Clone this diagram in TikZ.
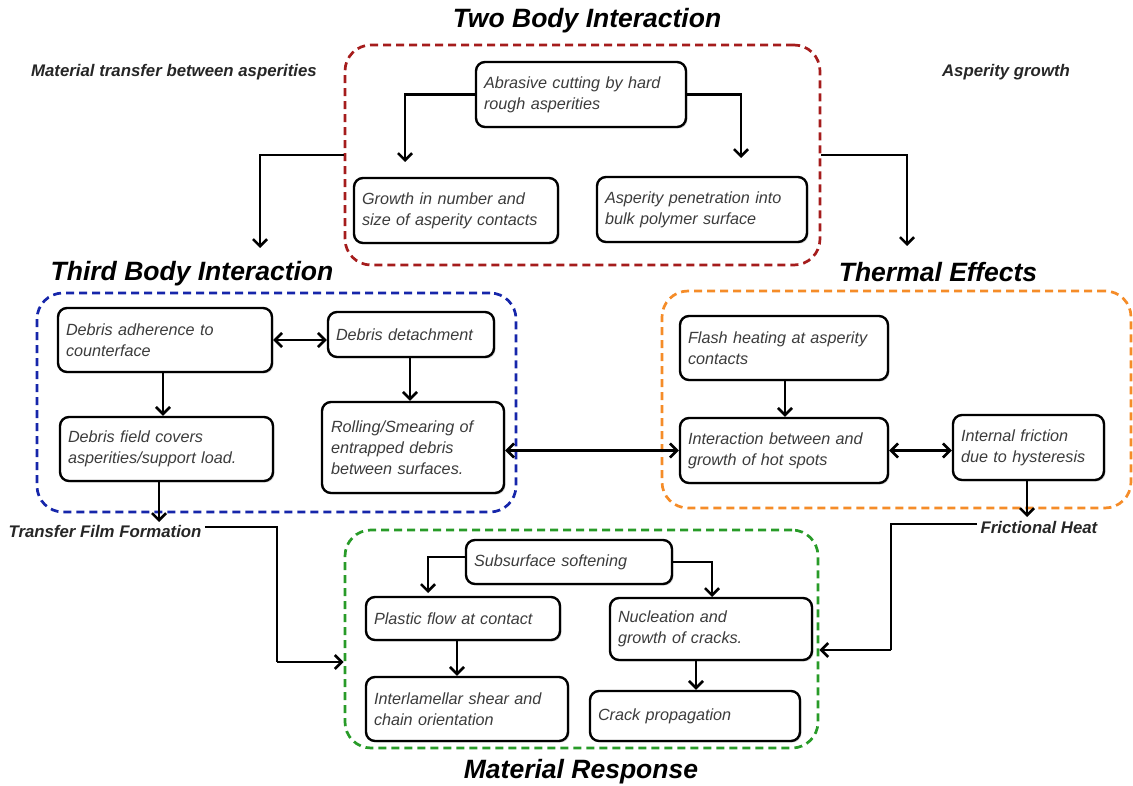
\documentclass[tikz,border=0pt]{standalone}
\usepackage{fontspec}
\setmainfont{Liberation Sans}
\usetikzlibrary{arrows.meta,shadows,calc}
\definecolor{cred}{RGB}{165,28,28}
\definecolor{cblue}{RGB}{22,38,170}
\definecolor{corange}{RGB}{245,140,40}
\definecolor{cgreen}{RGB}{40,155,40}
\definecolor{btext}{RGB}{60,60,60}
\begin{document}
\begin{tikzpicture}[x=1pt,y=-1pt,
  bx/.style={draw=black, line width=2.4pt, rounded corners=9pt, fill=white,
    drop shadow={shadow xshift=1.5pt,shadow yshift=-1.5pt,opacity=0.3},
    align=left, inner xsep=8pt, text=btext,
    font=\fontsize{16.2}{21}\selectfont\itshape},
  grp/.style={draw=#1, line width=2.7pt, dash pattern=on 8pt off 5pt,
    rounded corners=26pt, minimum width=0pt},
  ttl/.style={font=\fontsize{26.5}{30}\selectfont\bfseries\itshape, text=black},
  lbl/.style={font=\fontsize{16.8}{20}\selectfont\bfseries\itshape, text=black!85},
  arr/.style={line width=2.6pt, -{Straight Barb[length=7pt,width=14pt,line width=2.6pt]}},
  darr/.style={line width=2.6pt, {Straight Barb[length=7pt,width=14pt,line width=2.6pt]}-{Straight Barb[length=7pt,width=14pt,line width=2.6pt]}},
  ln/.style={line width=2.6pt}
]
\useasboundingbox (0,0) rectangle (1133,786);

% group frames
\node[grp=cred, minimum width=475pt, minimum height=220pt] (tbx) at (582.5,155) {};
\node[grp=cblue, minimum width=479pt, minimum height=219pt] (thx) at (276.5,402.5) {};
\node[grp=corange, minimum width=469pt, minimum height=217pt] (tex) at (896.5,399.5) {};
\node[grp=cgreen, minimum width=473pt, minimum height=218pt] (mrx) at (581.5,639) {};

% titles
\node[ttl] (tbt) at (587,21) {Two Body Interaction};
\node[ttl] (thb) at (192,274) {Third Body Interaction};
\node[ttl] (tet) at (938,272) {Thermal Effects};
\node[ttl] (mrt) at (581,772) {Material Response};

% side labels
\node[lbl] (mtb) at (174,72) {Material transfer between asperities};
\node[lbl] (ag) at (1006,72) {Asperity growth};
\node[lbl] (tff) at (105,531) {Transfer Film Formation};
\node[lbl] (fh) at (1039,527) {Frictional Heat};

% two body boxes
\node[bx, minimum width=210pt, minimum height=65pt, text width=194pt] (abr) at (581,94.5) {Abrasive cutting by hard\\rough asperities};
\node[bx, minimum width=204pt, minimum height=65pt, text width=188pt] (grow) at (456,210.5) {Growth in number and\\size of asperity contacts};
\node[bx, minimum width=210pt, minimum height=65pt, text width=194pt] (pen) at (702,209.5) {Asperity penetration into\\bulk polymer surface};

% third body boxes
\node[bx, minimum width=214pt, minimum height=64pt, text width=198pt] (adh) at (165,340) {Debris adherence to\\counterface};
\node[bx, minimum width=166pt, minimum height=45pt, text width=150pt] (det) at (411,334.5) {Debris detachment};
\node[bx, minimum width=213pt, minimum height=64pt, text width=197pt] (fld) at (166.5,449) {Debris field covers\\asperities/support load.};
\node[bx, minimum width=182pt, minimum height=91pt, text width=164pt, inner xsep=9pt] (roll) at (413,447.5) {Rolling/Smearing of\\entrapped debris\\between surfaces.};

% thermal boxes
\node[bx, minimum width=208pt, minimum height=64pt, text width=192pt] (flash) at (784,348) {Flash heating at asperity\\contacts};
\node[bx, minimum width=208pt, minimum height=65pt, text width=192pt] (inter) at (784,450.5) {Interaction between and\\growth of hot spots};
\node[bx, minimum width=151pt, minimum height=65pt, text width=135pt] (intf) at (1028.5,447.5) {Internal friction\\due to hysteresis};

% material response boxes
\node[bx, minimum width=206pt, minimum height=44pt, text width=190pt] (sub) at (569,562) {Subsurface softening};
\node[bx, minimum width=194pt, minimum height=43pt, text width=178pt] (plas) at (463,618.5) {Plastic flow at contact};
\node[bx, minimum width=202pt, minimum height=62pt, text width=186pt] (nuc) at (711,629) {Nucleation and\\growth of cracks.};
\node[bx, minimum width=202pt, minimum height=64pt, text width=186pt] (inl) at (467,709) {Interlamellar shear and\\chain orientation};
\node[bx, minimum width=210pt, minimum height=50pt, text width=194pt] (crk) at (695,716) {Crack propagation};

% free ends
\coordinate (e1) at (405,162);
\coordinate (e2) at (741,158);
\coordinate (e3) at (260,248);
\coordinate (e4) at (907,246);
\coordinate (e5) at (159,522);
\coordinate (e6) at (1027,517);
\coordinate (k1) at (277,662);
\coordinate (k2) at (891,650);
\coordinate (s1) at (428,593);
\coordinate (s2) at (712,597);

% connectors two body
\draw[arr] (abr.west) -| (e1);
\draw[arr] (abr.east) -| (e2);
\draw[arr] (tbx.west) -| (e3);
\draw[arr] (tbx.east) -| (e4);

% third body
\draw[darr] (adh.east) -- (adh.east -| det.west);
\draw[arr] ([xshift=-2pt]adh.south) -- ([xshift=-2pt]adh.south |- fld.north);
\draw[arr] ([xshift=-1pt]det.south) -- ([xshift=-1pt]det.south |- roll.north);
\draw[arr] (fld.south -| e5) -- (e5);
\draw[darr] (roll.east |- inter.west) -- (inter.west);

% thermal
\draw[arr] ([xshift=1pt]flash.south) -- ([xshift=1pt]flash.south |- inter.north);
\draw[darr] (inter.east) -- (inter.east -| intf.west);
\draw[arr] (intf.south -| e6) -- (e6);

% links to material response
\draw[ln] ([yshift=4pt]tff.east) -- ++(4,0) -| (k1);
\draw[arr] (k1) -- (k1 -| mrx.west);
\draw[ln] ([yshift=3pt]fh.west) -- ++(-12,0) -| (k2);
\draw[arr] (k2) -- (k2 -| mrx.east);

% material response
\draw[arr] ([yshift=5pt]sub.west) -| (s1);
\draw[arr] (sub.east) -| (s2);
\draw[arr] ([xshift=-6pt]plas.south) -- ([xshift=-6pt]plas.south |- inl.north);
\draw[arr] ([xshift=-15pt]nuc.south) -- ([xshift=-15pt]nuc.south |- crk.north);
\end{tikzpicture}
\end{document}
